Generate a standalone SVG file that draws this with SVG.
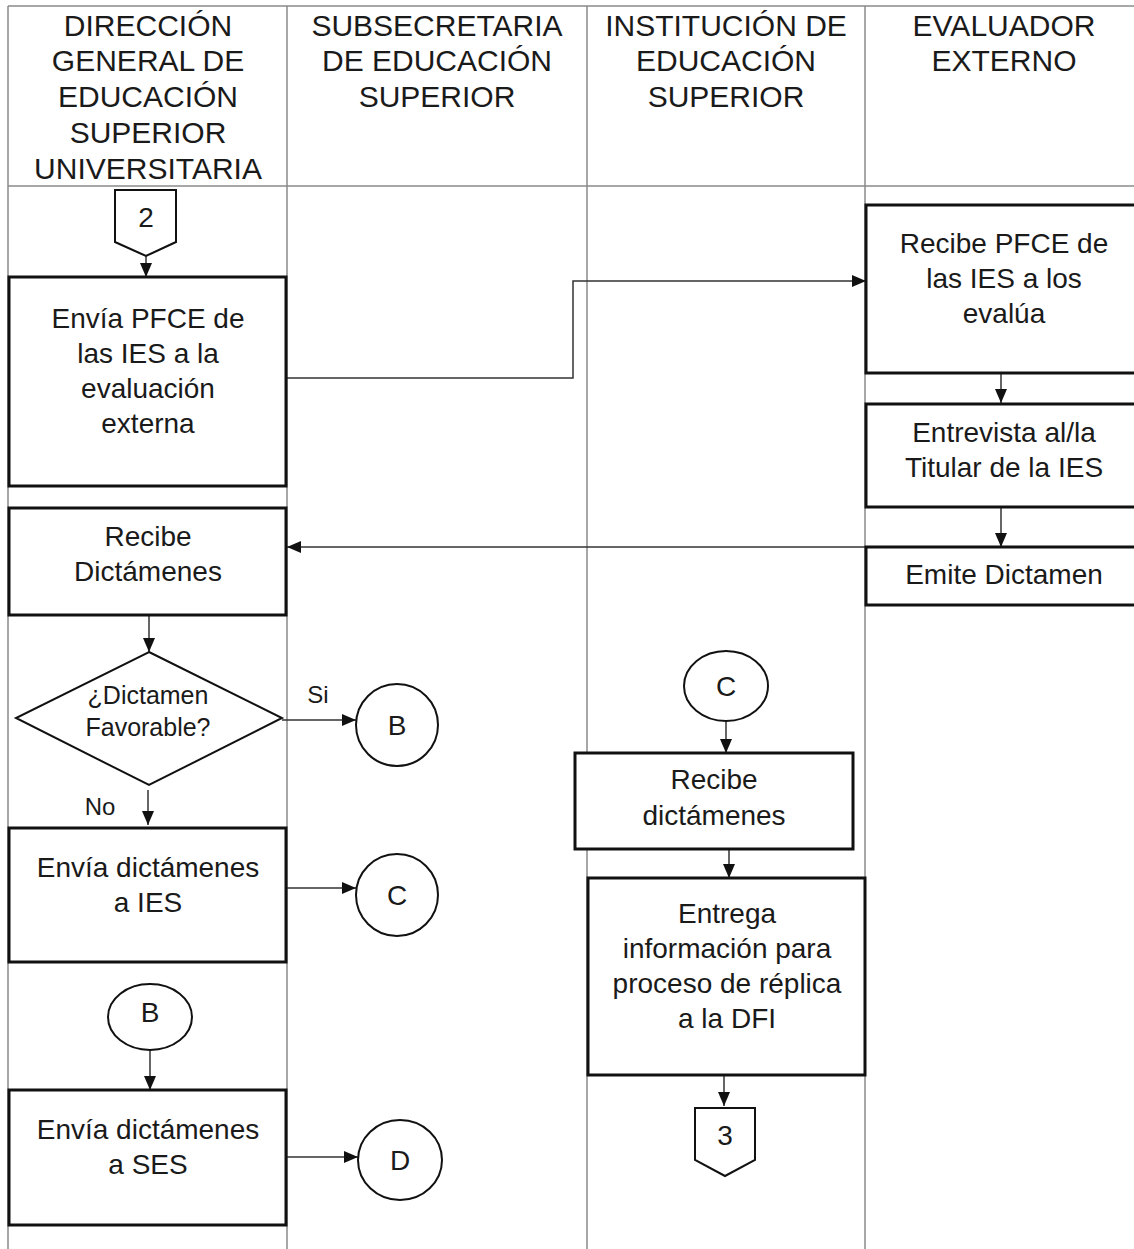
<svg xmlns="http://www.w3.org/2000/svg" width="1134" height="1249" viewBox="0 0 1134 1249">
<style>
text{font-family:"Liberation Sans",Arial,sans-serif;fill:#1a1a1a;text-anchor:middle}
.h{font-size:30px}
.t{font-size:28px}
.d{font-size:25px}
.lane{stroke:#8a8a8a;stroke-width:1.5;fill:none}
.box{fill:#fff;stroke:#111;stroke-width:3}
.con{fill:#fff;stroke:#111;stroke-width:2}
.ln{stroke:#333;stroke-width:1.5;fill:none;marker-end:url(#ah)}
</style>
<defs>
<marker id="ah" markerUnits="userSpaceOnUse" markerWidth="14" markerHeight="12" refX="14" refY="6" orient="auto">
<path d="M0,0 L14,6 L0,12 z" fill="#111"/>
</marker>
</defs>
<rect width="1134" height="1249" fill="#fff"/>
<g id="lanes">
<path class="lane" d="M8,6 H1134 M8,186 H1134 M8,6 V1249 M287,6 V1249 M587,6 V1249 M865,6 V1249"/>
<text class="h" x="148" y="36">DIRECCIÓN</text>
<text class="h" x="148" y="71">GENERAL DE</text>
<text class="h" x="148" y="107">EDUCACIÓN</text>
<text class="h" x="148" y="143">SUPERIOR</text>
<text class="h" x="148" y="179">UNIVERSITARIA</text>
<text class="h" x="437" y="36">SUBSECRETARIA</text>
<text class="h" x="437" y="71">DE EDUCACIÓN</text>
<text class="h" x="437" y="107">SUPERIOR</text>
<text class="h" x="726" y="36">INSTITUCIÓN DE</text>
<text class="h" x="726" y="71">EDUCACIÓN</text>
<text class="h" x="726" y="107">SUPERIOR</text>
<text class="h" x="1004" y="36">EVALUADOR</text>
<text class="h" x="1004" y="71">EXTERNO</text>
</g>
<g id="connectors">
<path class="ln" d="M146,256 V277"/>
<path class="ln" d="M286,378 H573 V281 H866"/>
<path class="ln" d="M1001,373 V403"/>
<path class="ln" d="M1001,507 V547"/>
<path class="ln" d="M866,547 H287"/>
<path class="ln" d="M149,615 V652"/>
<path class="ln" d="M282,720 H356"/>
<path class="ln" d="M148,790 V825"/>
<path class="ln" d="M286,888 H356"/>
<path class="ln" d="M150,1050 V1090"/>
<path class="ln" d="M286,1157 H358"/>
<path class="ln" d="M726,720 V753"/>
<path class="ln" d="M729,849 V878"/>
<path class="ln" d="M724,1075 V1106"/>
<text class="t" x="318" y="703" style="font-size:24px">Si</text>
<text class="t" x="100" y="815" style="font-size:24px">No</text>
</g>
<g id="n2">
<path class="con" d="M115,190 H176 V242 L146,256 L115,242 Z"/>
<text class="t" x="146" y="227">2</text>
</g>
<g id="n-envia-pfce">
<rect class="box" x="9" y="277" width="277" height="209"/>
<text class="t" x="148" y="328">Envía PFCE de</text>
<text class="t" x="148" y="363">las IES a la</text>
<text class="t" x="148" y="398">evaluación</text>
<text class="t" x="148" y="433">externa</text>
</g>
<g id="n-recibe-pfce">
<rect class="box" x="866" y="205" width="272" height="168"/>
<text class="t" x="1004" y="253">Recibe PFCE de</text>
<text class="t" x="1004" y="288">las IES a los</text>
<text class="t" x="1004" y="323">evalúa</text>
</g>
<g id="n-entrevista">
<rect class="box" x="866" y="404" width="272" height="103"/>
<text class="t" x="1004" y="442">Entrevista al/la</text>
<text class="t" x="1004" y="477">Titular de la IES</text>
</g>
<g id="n-emite">
<rect class="box" x="866" y="547" width="272" height="58"/>
<text class="t" x="1004" y="584">Emite Dictamen</text>
</g>
<g id="n-recibe-dict">
<rect class="box" x="9" y="508" width="277" height="107"/>
<text class="t" x="148" y="546">Recibe</text>
<text class="t" x="148" y="581">Dictámenes</text>
</g>
<g id="n-decision">
<path class="con" d="M149,652 L282,718 L149,785 L16,718 Z"/>
<text class="d" x="148" y="704">¿Dictamen</text>
<text class="d" x="148" y="736">Favorable?</text>
</g>
<g id="n-b1">
<circle class="con" cx="397" cy="725" r="41"/>
<text class="t" x="397" y="735">B</text>
</g>
<g id="n-envia-ies">
<rect class="box" x="9" y="828" width="277" height="134"/>
<text class="t" x="148" y="877">Envía dictámenes</text>
<text class="t" x="148" y="912">a IES</text>
</g>
<g id="n-c1">
<circle class="con" cx="397" cy="895" r="41"/>
<text class="t" x="397" y="905">C</text>
</g>
<g id="n-b2">
<ellipse class="con" cx="150" cy="1017" rx="42" ry="33"/>
<text class="t" x="150" y="1022">B</text>
</g>
<g id="n-envia-ses">
<rect class="box" x="9" y="1090" width="277" height="135"/>
<text class="t" x="148" y="1139">Envía dictámenes</text>
<text class="t" x="148" y="1174">a SES</text>
</g>
<g id="n-d">
<ellipse class="con" cx="400" cy="1160" rx="42" ry="40"/>
<text class="t" x="400" y="1170">D</text>
</g>
<g id="n-c2">
<ellipse class="con" cx="726" cy="686" rx="42" ry="35"/>
<text class="t" x="726" y="696">C</text>
</g>
<g id="n-recibe-ies">
<rect class="box" x="575" y="753" width="278" height="96"/>
<text class="t" x="714" y="789">Recibe</text>
<text class="t" x="714" y="825">dictámenes</text>
</g>
<g id="n-entrega">
<rect class="box" x="588" y="878" width="277" height="197"/>
<text class="t" x="727" y="923">Entrega</text>
<text class="t" x="727" y="958">información para</text>
<text class="t" x="727" y="993">proceso de réplica</text>
<text class="t" x="727" y="1028">a la DFI</text>
</g>
<g id="n3">
<path class="con" d="M695,1108 H755 V1160 L725,1176 L695,1160 Z"/>
<text class="t" x="725" y="1145">3</text>
</g>
</svg>
